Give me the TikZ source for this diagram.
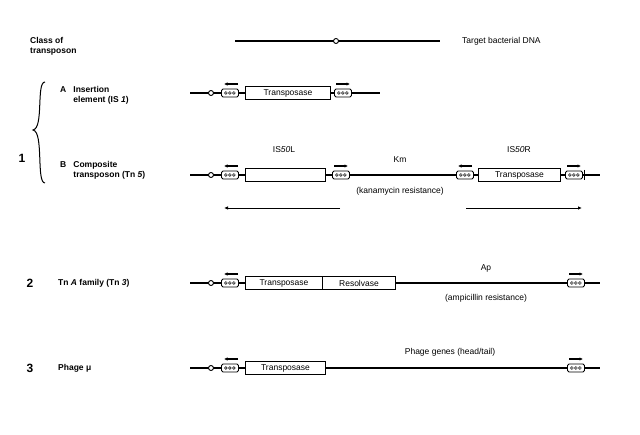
\documentclass[tikz,border=0pt]{standalone}
\usepackage{fontspec}
\setmainfont{Liberation Sans}
\usetikzlibrary{arrows.meta,calc}
\begin{document}
\begin{tikzpicture}[x=1pt,y=-1pt,
  lbl/.style={font=\fontsize{8.5}{10}\selectfont,inner sep=0pt},
  num/.style={font=\bfseries\fontsize{12}{13}\selectfont,inner sep=0pt},
  gene/.style={draw,line width=1pt,minimum height=13pt,inner sep=0pt,font=\fontsize{8.5}{9}\selectfont,anchor=west,fill=white},
  ir/.style={draw,line width=0.9pt,rounded corners=1.5pt,minimum width=17pt,minimum height=8pt,inner sep=0pt,fill=white,anchor=west},
  dna/.style={line width=1.1pt},
  end/.style={draw,line width=0.9pt,circle,inner sep=0pt,minimum size=5pt,fill=white},
  sarr/.style={-{Latex[length=3.5pt,width=3.5pt]},line width=1.4pt},
  larr/.style={-{Latex[length=4pt,width=3.5pt]},line width=0.9pt}]
\useasboundingbox (0,0) rectangle (640,435);
\newcommand{\irmk}[1]{\foreach \k in {-4,0,4}{\draw[line width=0.5pt] ($(#1.center)+(\k,0)$) circle (1.4pt);}}
% header
\node[lbl,anchor=west,align=left,font=\bfseries\fontsize{8.5}{10}\selectfont] (cls) at (30,46) {Class of\\transposon};
\coordinate (t0) at (235,41); \coordinate (t1) at (440,41);
\draw[dna] (t0) -- (t1);
\node[end] (tc) at (336,41) {};
\node[lbl,anchor=west] (tdna) at (462,41) {Target bacterial DNA};
% 1
\node[num] (n1) at (22,158) {1};
\draw[line width=1pt] (45,82) .. controls (36,82) and (44,128) .. (33,130) .. controls (44,132) and (36,183) .. (45,183);
% 1A
\node[lbl,anchor=west,align=left,font=\bfseries\fontsize{8.5}{10}\selectfont] (la) at (60,95) {A\;\; Insertion\\\phantom{A\;\;} element (IS \textit{1})};
\draw[dna] (190,93) -- (380,93);
\node[end] (ae) at (211,93) {};
\node[ir] (ai1) at (221,93) {}; \irmk{ai1}
\node[gene,minimum width=85pt] (atp) at (245,93) {Transposase};
\node[ir] (ai2) at (334,93) {}; \irmk{ai2}
\draw[sarr] (238,84) -- (224,84);
\draw[sarr] (336,84) -- (350,84);
% 1B
\node[lbl,anchor=west,align=left,font=\bfseries\fontsize{8.5}{10}\selectfont] (lb) at (60,170) {B\;\; Composite\\\phantom{B\;\;} transposon (Tn \textit{5})};
\draw[dna] (190,175) -- (600,175);
\node[end] (be) at (211,175) {};
\node[ir] (bi1) at (221,175) {}; \irmk{bi1}
\node[gene,minimum width=80pt] (bl) at (245,175) {};
\node[ir] (bi2) at (332,175) {}; \irmk{bi2}
\node[ir] (bi3) at (456,175) {}; \irmk{bi3}
\node[gene,minimum width=82pt] (br) at (478,175) {Transposase};
\node[ir] (bi4) at (565,175) {}; \irmk{bi4}
\draw[line width=1pt] (584,170) -- (584,180);
\node[lbl] (is50l) at (284,150) {IS\textit{50}L};
\node[lbl] (km) at (400,160) {Km};
\node[lbl] (is50r) at (519,150) {IS\textit{50}R};
\node[lbl] (kan) at (400,191) {(kanamycin resistance)};
\draw[sarr] (238,166) -- (224,166);
\draw[sarr] (334,166) -- (348,166);
\draw[sarr] (472,166) -- (458,166);
\draw[sarr] (567,166) -- (581,166);
\draw[larr] (340,208) -- (224,208);
\draw[larr] (466,208) -- (582,208);
% 2
\node[num] (n2) at (30,283) {2};
\node[lbl,anchor=west] (l2) at (58,283) {\textbf{Tn \textit{A} family (Tn \textit{3})}};
\draw[dna] (190,283) -- (600,283);
\node[end] (ce) at (211,283) {};
\node[ir] (ci1) at (221,283) {}; \irmk{ci1}
\node[gene,minimum width=77pt] (ctp) at (245,283) {Transposase};
\node[gene,minimum width=73pt] (cres) at (322,283) {Resolvase};
\node[ir] (ci2) at (567,283) {}; \irmk{ci2}
\node[lbl] (ap) at (486,268) {Ap};
\node[lbl] (amp) at (486,298) {(ampicillin resistance)};
\draw[sarr] (238,274) -- (224,274);
\draw[sarr] (569,274) -- (583,274);
% 3
\node[num] (n3) at (30,368) {3};
\node[lbl,anchor=west] (l3) at (58,368) {\textbf{Phage μ}};
\draw[dna] (190,368) -- (600,368);
\node[end] (de) at (211,368) {};
\node[ir] (di1) at (221,368) {}; \irmk{di1}
\node[gene,minimum width=80pt] (dtp) at (245,368) {Transposase};
\node[ir] (di2) at (567,368) {}; \irmk{di2}
\node[lbl] (ph) at (450,352) {Phage genes (head/tail)};
\draw[sarr] (238,359) -- (224,359);
\draw[sarr] (569,359) -- (583,359);
\end{tikzpicture}
\end{document}
